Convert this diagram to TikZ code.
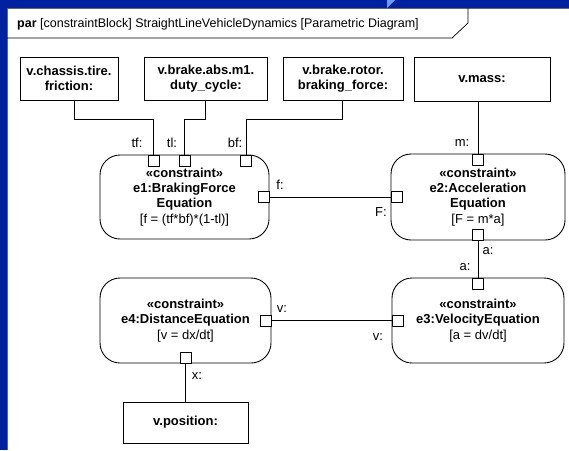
\documentclass[tikz,border=0pt]{standalone}
\usepackage{fontspec}
\setmainfont{Liberation Sans}
\usetikzlibrary{positioning}
\definecolor{slideblue}{HTML}{0022A0}
\definecolor{slidelight}{HTML}{6A9CF5}
\newcommand{\diafont}{\fontsize{13}{15.2}\selectfont}
\newcommand{\titlefont}{\fontsize{12.5}{15}\selectfont}
\tikzset{
  valbox/.style={draw, line width=0.9pt, fill=white, font=\diafont\bfseries,
                 align=center, inner sep=0pt},
  cblock/.style={draw, line width=0.9pt, rounded corners=20pt, fill=white,
                 font=\diafont, align=center, inner sep=0pt},
  port/.style={draw, line width=0.8pt, fill=white, minimum size=11pt, inner sep=0pt},
  plabel/.style={font=\diafont, inner sep=0pt},
  wire/.style={line width=0.7pt},
}

\begin{document}
\begin{tikzpicture}[x=1pt, y=-1pt]
    % slide background and diagram frame
    \useasboundingbox[fill=slideblue] (0,0) rectangle (569,450);
    \fill[slidelight] (387,0) -- (395,0) -- (387,8) -- cycle;
    \fill[white] (7,8) rectangle (569,450);
    \draw[black!60, line width=1pt] (7,450) -- (7,8) -- (569,8);
    \draw[wire] (7,38) -- (452,38) -- (468,23) -- (468,8);
    \node[plabel, font=\titlefont, anchor=base west] (title) at (17,27)
      {\textbf{par} [constraintBlock] StraightLineVehicleDynamics [Parametric Diagram]};

    % value properties
    \node[valbox, minimum width=98pt, minimum height=43pt] (vtire) at (69,78.5) {v.chassis.tire.\\friction:};
    \node[valbox, minimum width=123pt, minimum height=43pt] (vabs) at (206,78.5) {v.brake.abs.m1.\\duty\_cycle:};
    \node[valbox, minimum width=120pt, minimum height=43pt] (vrotor) at (343,78.5) {v.brake.rotor.\\braking\_force:};
    \node[valbox, minimum width=136pt, minimum height=44pt] (vmass) at (482,79) {v.mass:};
    \node[valbox, minimum width=125pt, minimum height=41pt] (vpos) at (185.5,422.5) {v.position:};

    % constraint properties
    \node[cblock, minimum width=169pt, minimum height=84pt] (e1) at (184.5,197)
      {\textbf{«constraint»}\\ \textbf{e1:BrakingForce}\\ \textbf{Equation}\\ {[f = (tf*bf)*(1-tl)]}};
    \node[cblock, minimum width=174pt, minimum height=86pt] (e2) at (478,197)
      {\textbf{«constraint»}\\ \textbf{e2:Acceleration}\\ \textbf{Equation}\\ {[F = m*a]}};
    \node[cblock, minimum width=172pt, minimum height=85pt] (e3) at (478,320.5)
      {\textbf{«constraint»}\\ \textbf{e3:VelocityEquation}\\ {[a = dv/dt]}};
    \node[cblock, minimum width=171pt, minimum height=85pt] (e4) at (185.5,320.5)
      {\textbf{«constraint»}\\ \textbf{e4:DistanceEquation}\\ {[v = dx/dt]}};

    % parameters
    \node[port, anchor=north] (tf) at ([xshift=-31pt]e1.north) {};
    \node[port, anchor=north] (tl) at (e1.north) {};
    \node[port, anchor=north] (bf) at ([xshift=61.5pt]e1.north) {};
    \node[port, anchor=east] (f) at (e1.east) {};
    \node[port, anchor=west] (F) at (e2.west) {};
    \node[port, anchor=north] (m) at (e2.north) {};
    \node[port, anchor=south] (a2) at (e2.south) {};
    \node[port, anchor=north] (a3) at (e3.north) {};
    \node[port, anchor=west] (v3) at (e3.west) {};
    \node[port, anchor=east] (v4) at (e4.east) {};
    \node[port, anchor=south] (x4) at (e4.south) {};

    % binding connectors
    \coordinate (k1) at (74,119);
    \coordinate (k2) at (205,119);
    \coordinate (k3) at (342,119);
    \draw[wire] (vtire.south -| k1) -- (k1) -| (tf.north);
    \draw[wire] (vabs.south -| k2) -- (k2) -| (tl.north);
    \draw[wire] (vrotor.south -| k3) -- (k3) -| (bf.north);
    \draw[wire] (vmass.south -| m.north) -- (m.north);
    \draw[wire] (f.east) -- (F.west);
    \draw[wire] (a2.south) -- (a3.north);
    \draw[wire] (v4.east) -- (v3.west);
    \draw[wire] (x4.south) -- (vpos.north);

    \node[plabel] (ltf) at (137,143) {tf:};
    \node[plabel] (ltl) at (172,143) {tl:};
    \node[plabel] (lbf) at (235,143) {bf:};
    \node[plabel] (lm) at (462,143) {m:};
    \node[plabel] (lf) at (280,185) {f:};
    \node[plabel] (lF) at (381,212) {F:};
    \node[plabel] (la2) at (488,251) {a:};
    \node[plabel] (la3) at (465,267) {a:};
    \node[plabel] (lv4) at (282,309) {v:};
    \node[plabel] (lv3) at (378,337) {v:};
    \node[plabel] (lx) at (197,376) {x:};
\end{tikzpicture}
\end{document}
